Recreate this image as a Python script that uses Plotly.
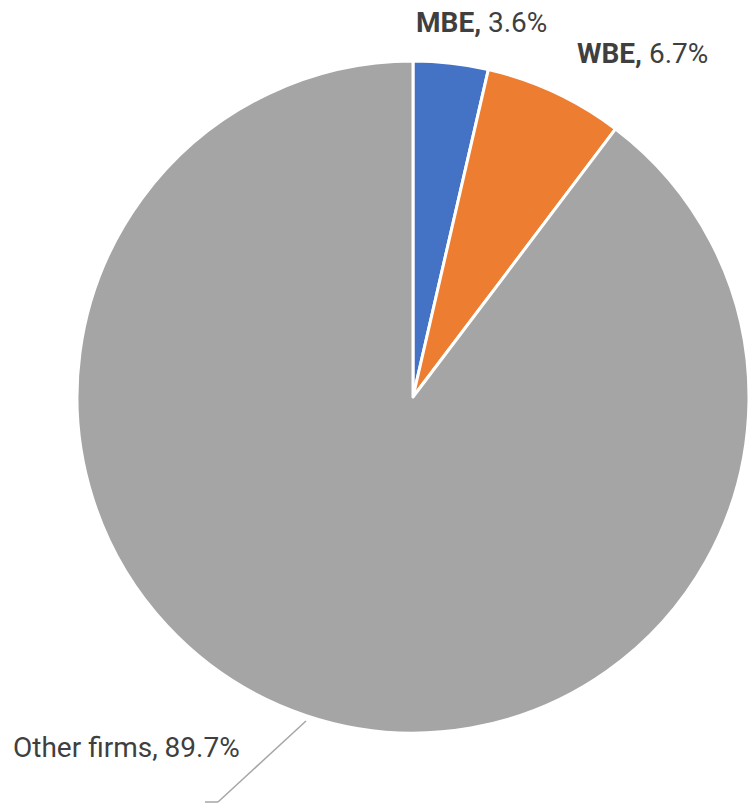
import plotly.graph_objects as go

categories = ["MBE", "WBE", "Other firms"]
shares = [3.6, 6.7, 89.7]
colors = ["#4472C4", "#ED7D31", "#A5A5A5"]

W, H = 749, 806

def px(x):
    return x / W

def py(y):
    return 1 - y / H

# pie geometry in pixels
cx, cy, r = 413, 397, 336

fig = go.Figure(go.Pie(
    labels=categories,
    values=shares,
    sort=False,
    direction="clockwise",
    rotation=0,
    marker=dict(colors=colors, line=dict(color="white", width=3)),
    textinfo="none",
    hoverinfo="label+percent",
    domain=dict(x=[px(cx - r), px(cx + r)], y=[py(cy + r), py(cy - r)]),
    showlegend=False,
))

font = dict(family="Roboto, Arial, sans-serif", size=28, color="#3F3F3F")

label_pos = {
    "MBE": (414, 23),
    "WBE": (575, 54),
    "Other firms": (11, 747),
}
for cat, val in zip(categories, shares):
    x, y = label_pos[cat]
    if cat == "Other firms":
        txt = f"{cat}, {val:.1f}%"
    else:
        txt = f"<b>{cat},</b> {val:.1f}%"
    fig.add_annotation(x=px(x), y=py(y), xref="paper", yref="paper",
                       text=txt, showarrow=False, xanchor="left", yanchor="middle",
                       font=font)

# leader line for "Other firms"
lc = "#A6A6A6"
fig.add_shape(type="line", xref="paper", yref="paper",
              x0=px(306), y0=py(721), x1=px(218), y1=py(802), line=dict(color=lc, width=1.5))
fig.add_shape(type="line", xref="paper", yref="paper",
              x0=px(218), y0=py(802), x1=px(205), y1=py(802), line=dict(color=lc, width=1.5))

fig.update_layout(width=W, height=H, margin=dict(l=0, r=0, t=0, b=0),
                  paper_bgcolor="white", plot_bgcolor="white")

fig.write_html("out.html")
